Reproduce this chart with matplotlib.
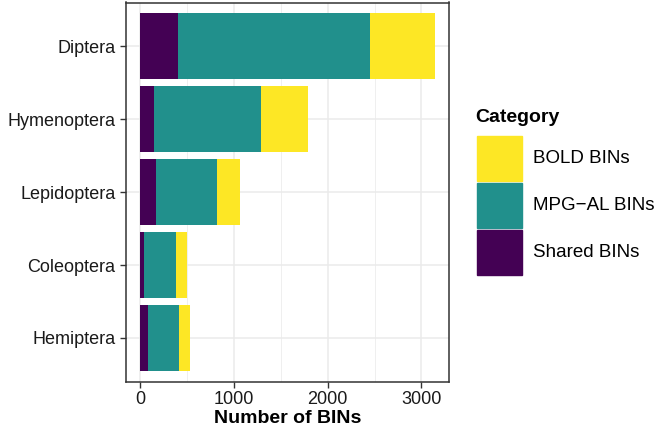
import matplotlib
matplotlib.use('Agg')
import matplotlib.pyplot as plt
import numpy as np
from matplotlib.patches import Rectangle

plt.rcParams['font.family'] = ['Liberation Sans', 'DejaVu Sans']

# Orders, top to bottom
orders = ['Diptera', 'Hymenoptera', 'Lepidoptera', 'Coleoptera', 'Hemiptera']
shared = [402, 142, 163, 43, 78]
mpg_al = [2050, 1144, 651, 341, 331]
bold = [689, 501, 248, 110, 124]

series_names = ['BOLD BINs', 'MPG\u2212AL BINs', 'Shared BINs']
colors = {'Shared BINs': '#440154', 'MPG\u2212AL BINs': '#21908C', 'BOLD BINs': '#FDE725'}

fig = plt.figure(figsize=(6.64, 4.28), dpi=100)
ax = fig.add_axes([125.7 / 664, 1 - 381.7 / 428, (449.3 - 125.7) / 664, (381.7 - 2.5) / 428])

y = np.arange(len(orders))[::-1] + 1
left = np.zeros(len(orders))
for name, vals in [('Shared BINs', shared), ('MPG\u2212AL BINs', mpg_al), ('BOLD BINs', bold)]:
    vals = np.array(vals)
    ax.barh(y, vals, left=left, height=0.9, color=colors[name], zorder=3)
    left += vals

total_max = left.max()
pad = total_max * 0.05
ax.set_xlim(-pad, total_max + pad)
ax.set_ylim(0.4, len(orders) + 0.6)
ax.set_yticks(y)
ax.set_yticklabels(orders, fontsize=13)
ax.set_xticks([0, 1000, 2000, 3000])
ax.set_xticks([500, 1500, 2500], minor=True)
ax.tick_params(axis='x', labelsize=13, colors='#333333', labelcolor='#1a1a1a', length=4, width=1, pad=3)
ax.tick_params(axis='y', colors='#333333', labelcolor='#1a1a1a', length=4, width=1)
ax.tick_params(which='minor', length=0)
ax.grid(True, which='major', color='#EBEBEB', linewidth=1.1, zorder=0)
ax.grid(True, which='minor', color='#EBEBEB', linewidth=0.55, zorder=0)
for s in ax.spines.values():
    s.set_color('#333333')
    s.set_linewidth(1.1)
ax.set_xlabel('Number of BINs', fontsize=14, fontweight='bold', labelpad=1)

# legend
fig.text(475 / 664, 1 - 118 / 428, 'Category', fontsize=14, fontweight='bold', va='center', ha='left')
key_top = 136
for i, name in enumerate(series_names):
    top = key_top + i * 47
    fig.patches.append(Rectangle((477 / 664, 1 - (top + 45) / 428), 45 / 664, 45 / 428,
                                 transform=fig.transFigure, color=colors[name]))
    fig.text(533 / 664, 1 - (top + 22.5) / 428, name, fontsize=13.5, va='center', ha='left')

fig.savefig('out.png', dpi=100)
